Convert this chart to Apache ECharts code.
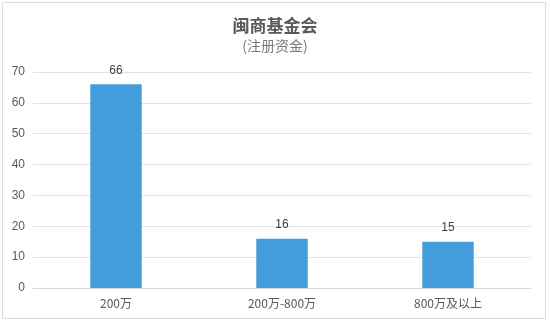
<!DOCTYPE html>
<html><head><meta charset="utf-8">
<script src="https://cdn.jsdelivr.net/npm/echarts@6/dist/echarts.min.js"></script>
<style>html,body{margin:0;padding:0;background:#fff}#c{width:550px;height:326px}</style>
</head><body><div id="c"></div>
<script>
const categories = ['200万', '200万-800万', '800万及以上'];
const values = [66, 16, 15];
const yTicks = [0, 10, 20, 30, 40, 50, 60, 70];

const chart = echarts.init(document.getElementById('c'));
chart.setOption({
  animation: false,
  graphic: [{
    type: 'rect', shape: {x: 2.5, y: 2.5, width: 543, height: 316},
    style: {fill: 'none', stroke: '#dcdcdc', lineWidth: 1}, silent: true
  }],
  title: {
    text: '闽商基金会', subtext: '(注册资金)', left: 'center', top: 12,
    itemGap: 5,
    textStyle: {fontSize: 17, fontWeight: 'bold', color: '#595959', fontFamily: 'Noto Sans CJK SC'},
    subtextStyle: {fontSize: 14, color: '#7a7a7a', fontFamily: 'Noto Sans CJK SC'}
  },
  grid: {left: 33, right: 19, top: 72, bottom: 38, containLabel: false},
  xAxis: {
    type: 'category', data: categories,
    axisTick: {show: false},
    axisLine: {lineStyle: {color: '#d9d9d9'}},
    axisLabel: {color: '#595959', fontSize: 12, margin: 9, fontFamily: 'Noto Sans CJK SC'}
  },
  yAxis: {
    type: 'value', min: yTicks[0], max: yTicks[yTicks.length - 1], interval: 10,
    axisLine: {show: false}, axisTick: {show: false},
    splitLine: {lineStyle: {color: '#e3e3e3'}},
    axisLabel: {color: '#595959', fontSize: 12, margin: 8, fontFamily: 'Liberation Sans'}
  },
  series: [{
    type: 'bar', data: values, barWidth: '31%',
    itemStyle: {color: '#449ddb'},
    label: {show: true, position: 'top', color: '#404040', fontSize: 12, distance: 8, fontFamily: 'Liberation Sans'}
  }]
});
</script></body></html>
